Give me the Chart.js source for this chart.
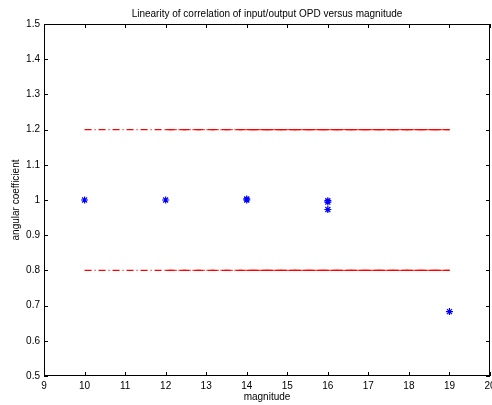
<!DOCTYPE html>
<html>
<head>
<meta charset="utf-8">
<script src="https://cdn.jsdelivr.net/npm/chart.js@4.4.1/dist/chart.umd.min.js"></script>
<style>
  html, body { margin: 0; padding: 0; background: #fff; overflow: hidden; }
  #wrap { width: 510px; height: 405px; }
</style>
</head>
<body>
<div id="wrap"><canvas id="chart" width="510" height="405"></canvas></div>
<script>
// measured points: magnitude vs angular coefficient
const magnitudes = [10, 12, 14, 14, 16, 16, 16, 19];
const coefficients = [1.0, 1.0, 1.0, 1.003, 0.998, 0.994, 0.973, 0.683];

// tolerance limits (drawn as overlapping dash-dot segments)
const limitStarts = [10, 12, 14];
const limitEnd = 19;
const upperLimit = 1.2;
const lowerLimit = 0.8;

// axis ticks
const xTicks = [9, 10, 11, 12, 13, 14, 15, 16, 17, 18, 19, 20];
const yTicks = [0.5, 0.6, 0.7, 0.8, 0.9, 1.0, 1.1, 1.2, 1.3, 1.4, 1.5];

const titleText = 'Linearity of correlation of input/output OPD versus magnitude';
const FONT = 'Liberation Sans, Arial, Helvetica, sans-serif';

// build limit line datasets
const limitSets = [];
[upperLimit, lowerLimit].forEach(level => {
  limitStarts.forEach(start => {
    limitSets.push({
      type: 'line',
      data: [{ x: start, y: level }, { x: limitEnd, y: level }],
      borderColor: '#ff0000',
      borderWidth: 1.4,
      borderDash: [7, 3, 1, 3],
      pointRadius: 0,
      fill: false
    });
  });
});

// MATLAB-style box with inward ticks, title centred over the axes
const frame = {
  id: 'frame',
  afterDraw(chart) {
    const { ctx, chartArea: a, scales: { x, y } } = chart;
    ctx.save();
    ctx.strokeStyle = '#000';
    ctx.lineWidth = 1;
    ctx.strokeRect(a.left + 0.5, a.top + 0.5, a.right - a.left - 1, a.bottom - a.top - 1);
    ctx.beginPath();
    const len = 4;
    xTicks.forEach(v => {
      const px = Math.round(x.getPixelForValue(v)) + 0.5;
      ctx.moveTo(px, a.bottom);
      ctx.lineTo(px, a.bottom - len);
      ctx.moveTo(px, a.top);
      ctx.lineTo(px, a.top + len);
    });
    yTicks.forEach(v => {
      const py = Math.round(y.getPixelForValue(v)) + 0.5;
      ctx.moveTo(a.left, py);
      ctx.lineTo(a.left + len, py);
      ctx.moveTo(a.right, py);
      ctx.lineTo(a.right - len, py);
    });
    ctx.stroke();

    ctx.fillStyle = '#000';
    ctx.font = '10px ' + FONT;
    ctx.textAlign = 'center';
    ctx.textBaseline = 'middle';
    ctx.fillText(titleText, (a.left + a.right) / 2, 14);
    ctx.restore();
  }
};

new Chart(document.getElementById('chart'), {
  type: 'scatter',
  data: {
    datasets: [
      ...limitSets,
      {
        type: 'scatter',
        data: magnitudes.map((m, i) => ({ x: m, y: coefficients[i] })),
        pointStyle: 'star',
        pointRadius: 3.5,
        borderColor: '#0000ff',
        backgroundColor: '#0000ff',
        pointBorderWidth: 1.2
      }
    ]
  },
  options: {
    responsive: false,
    animation: false,
    layout: { padding: { left: 0, right: 20, top: 24, bottom: 0 } },
    plugins: {
      legend: { display: false },
      tooltip: { enabled: false },
      title: { display: false }
    },
    scales: {
      x: {
        type: 'linear',
        min: 9,
        max: 20,
        afterBuildTicks: s => { s.ticks = xTicks.map(v => ({ value: v })); },
        afterFit: s => { s.height = 29; },
        grid: { display: false, drawTicks: false },
        border: { display: false },
        ticks: { color: '#000', font: { family: FONT, size: 10 }, padding: 4, maxRotation: 0 },
        title: {
          display: true,
          text: 'magnitude',
          color: '#000',
          font: { family: FONT, size: 10 },
          padding: { top: 0, bottom: 2 }
        }
      },
      y: {
        type: 'linear',
        min: 0.5,
        max: 1.5,
        afterBuildTicks: s => { s.ticks = yTicks.map(v => ({ value: v })); },
        afterFit: s => { s.width = 44; },
        grid: { display: false, drawTicks: false },
        border: { display: false },
        ticks: {
          color: '#000',
          font: { family: FONT, size: 10 },
          padding: 4,
          callback: v => String(+v.toFixed(1))
        },
        title: {
          display: true,
          text: 'angular coefficient',
          color: '#000',
          font: { family: FONT, size: 10 },
          padding: { top: 10, bottom: 0 }
        }
      }
    }
  },
  plugins: [frame]
});
</script>
</body>
</html>
